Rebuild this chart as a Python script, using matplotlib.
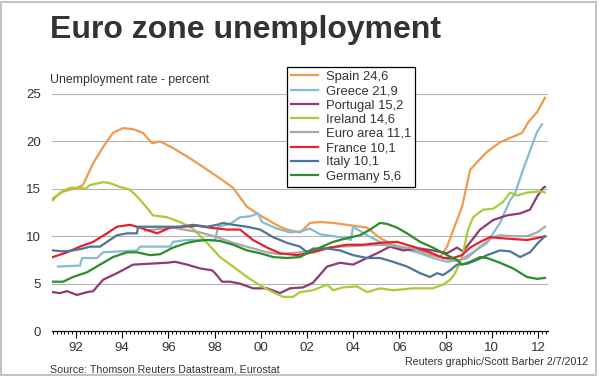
import numpy as np
import matplotlib
matplotlib.use('Agg')
import matplotlib.pyplot as plt
from matplotlib.patches import Rectangle

plt.rcParams['font.family'] = ['Liberation Sans', 'DejaVu Sans']

# decimal years / percent
spain_t = [1991.00, 1991.44, 1992.04, 1992.30, 1992.74, 1993.17, 1993.60, 1994.03, 1994.47, 1994.90,
           1995.29, 1995.64, 1996.20, 1996.94, 1997.50, 1998.23, 1998.80, 1999.40, 1999.97, 2000.53,
           2000.83, 2001.13, 2001.70, 2002.13, 2002.56, 2003.13, 2003.73, 2004.60, 2005.16, 2005.72,
           2006.59, 2007.32, 2007.76, 2008.06, 2008.32, 2008.71, 2009.06, 2009.36, 2009.79, 2010.35,
           2010.92, 2011.31, 2011.57, 2011.96, 2012.30]
spain_v = [14.0, 14.7, 15.1, 15.4, 17.7, 19.4, 20.9, 21.4, 21.3, 20.9,
           19.8, 20.0, 19.3, 18.2, 17.3, 16.1, 15.1, 13.1, 12.2, 11.4,
           11.0, 10.7, 10.4, 11.4, 11.5, 11.4, 11.2, 10.9, 9.8, 9.1,
           8.5, 8.0, 7.8, 8.9, 10.6, 13.1, 17.0, 17.8, 18.9, 19.9,
           20.5, 20.9, 22.0, 23.1, 24.6]

greece_t = [1991.22, 1992.17, 1992.26, 1992.91, 1993.17, 1994.64, 1994.77, 1996.07, 1996.20, 1996.81,
            1998.02, 1998.15, 1998.67, 1999.10, 1999.53, 1999.88, 2000.05, 2000.70, 2001.26, 2001.70,
            2002.13, 2002.56, 2003.43, 2003.90, 2003.99, 2004.60, 2005.16, 2006.03, 2006.89, 2007.45,
            2008.06, 2008.62, 2009.19, 2009.79, 2010.35, 2010.79, 2011.00, 2011.35, 2011.74, 2011.96,
            2012.17]
greece_v = [6.8, 6.9, 7.7, 7.7, 8.3, 8.5, 8.9, 8.9, 9.4, 9.6,
            9.6, 11.0, 11.3, 12.0, 12.1, 12.4, 11.5, 10.8, 10.4, 10.5,
            10.8, 10.2, 9.9, 9.6, 11.0, 10.1, 9.4, 8.8, 8.2, 7.7,
            7.3, 7.5, 8.3, 9.3, 11.4, 13.8, 14.5, 17.0, 19.6, 21.0,
            21.8]

portugal_t = [1991.00, 1991.31, 1991.61, 1992.04, 1992.48, 1992.74, 1993.17, 1993.77, 1994.47, 1995.20,
              1995.94, 1996.29, 1996.81, 1997.37, 1997.89, 1998.02, 1998.32, 1998.67, 1999.10, 1999.66,
              2000.27, 2000.83, 2001.26, 2001.83, 2002.26, 2002.87, 2003.43, 2003.99, 2004.42, 2005.03,
              2005.59, 2006.16, 2006.89, 2007.45, 2008.06, 2008.49, 2008.75, 2009.14, 2009.49, 2010.05,
              2010.66, 2011.22, 2011.65, 2011.96, 2012.22, 2012.30]
portugal_v = [4.1, 4.0, 4.2, 3.8, 4.1, 4.2, 5.4, 6.1, 7.0, 7.1,
              7.2, 7.3, 7.0, 6.6, 6.4, 6.1, 5.2, 5.2, 5.0, 4.5,
              4.5, 4.0, 4.5, 4.6, 5.1, 6.8, 7.2, 7.0, 7.5, 8.2,
              8.9, 8.5, 8.7, 8.5, 8.2, 8.8, 8.4, 9.6, 10.7, 11.7,
              12.2, 12.4, 12.8, 14.2, 15.1, 15.2]

ireland_t = [1991.00, 1991.31, 1991.74, 1992.17, 1992.39, 1992.61, 1993.17, 1993.47, 1993.90, 1994.34,
             1994.64, 1995.07, 1995.33, 1995.94, 1996.50, 1997.06, 1997.67, 1998.23, 1998.80, 1999.40,
             1999.97, 2000.53, 2000.96, 2001.39, 2001.70, 2002.26, 2002.87, 2003.13, 2003.56, 2004.16,
             2004.60, 2005.16, 2005.72, 2006.59, 2007.45, 2007.89, 2008.19, 2008.41, 2008.71, 2008.97,
             2009.19, 2009.62, 2010.05, 2010.48, 2010.79, 2011.09, 2011.52, 2011.96, 2012.22, 2012.30]
ireland_v = [13.8, 14.6, 15.1, 15.1, 15.0, 15.4, 15.7, 15.6, 15.2, 14.9,
             14.2, 13.0, 12.2, 12.0, 11.5, 10.8, 9.3, 7.8, 6.8, 5.7,
             4.8, 4.1, 3.6, 3.6, 4.1, 4.3, 4.9, 4.3, 4.6, 4.7,
             4.1, 4.5, 4.3, 4.5, 4.5, 4.9, 5.4, 6.1, 7.8, 10.7,
             12.0, 12.8, 12.9, 13.6, 14.6, 14.3, 14.6, 14.7, 14.7, 14.6]

euro_t = [1994.99, 1996.20, 1997.37, 1998.10, 1998.80, 1999.53, 2000.27, 2000.83, 2001.70, 2002.56,
          2003.43, 2004.29, 2005.16, 2006.03, 2006.59, 2007.32, 2008.06, 2008.49, 2008.93, 2009.49,
          2010.05, 2010.35, 2010.92, 2011.52, 2011.96, 2012.30]
euro_v = [10.6, 10.9, 10.4, 9.9, 9.3, 8.8, 8.3, 8.1, 8.3, 8.7,
          8.9, 9.0, 9.1, 8.9, 8.7, 8.2, 7.6, 7.4, 7.7, 8.9,
          9.9, 10.1, 10.0, 10.0, 10.4, 11.0]

france_t = [1991.00, 1991.61, 1992.17, 1992.74, 1993.34, 1993.77, 1994.34, 1994.77, 1995.51, 1996.07,
            1996.63, 1997.24, 1997.80, 1998.54, 1999.10, 1999.66, 2000.27, 2000.83, 2001.57, 2002.26,
            2003.00, 2003.73, 2004.42, 2005.16, 2005.90, 2006.59, 2007.32, 2007.89, 2008.32, 2008.71,
            2009.06, 2009.49, 2009.92, 2010.35, 2010.92, 2011.52, 2011.96, 2012.30]
france_v = [7.8, 8.3, 8.9, 9.4, 10.3, 11.0, 11.2, 10.9, 10.3, 10.9,
            11.0, 11.1, 10.9, 10.7, 10.7, 9.6, 8.8, 8.2, 8.0, 8.3,
            8.8, 9.1, 9.1, 9.3, 9.4, 8.9, 8.3, 7.7, 7.7, 8.0,
            8.8, 9.4, 9.9, 9.8, 9.7, 9.6, 9.8, 10.0]

italy_t = [1991.00, 1991.44, 1991.87, 1992.30, 1992.61, 1993.04, 1993.34, 1993.77, 1994.21, 1994.64,
           1994.68, 1995.20, 1995.94, 1996.50, 1997.06, 1997.67, 1998.10, 1998.36, 1998.80, 1999.40,
           1999.97, 2000.53, 2001.13, 2001.70, 2002.00, 2002.26, 2002.87, 2003.43, 2003.99, 2004.60,
           2005.16, 2005.72, 2006.33, 2006.89, 2007.32, 2007.63, 2007.89, 2008.19, 2008.49, 2008.93,
           2009.36, 2009.79, 2010.35, 2010.79, 2011.22, 2011.65, 2012.00, 2012.30]
italy_v = [8.5, 8.4, 8.5, 8.7, 8.9, 8.9, 9.4, 10.1, 10.3, 10.3,
           11.0, 11.0, 11.0, 11.0, 11.2, 11.0, 11.2, 11.4, 11.2, 11.0,
           10.7, 9.9, 9.3, 8.9, 8.3, 8.7, 8.7, 8.5, 8.0, 7.7,
           7.7, 7.3, 6.8, 6.1, 5.7, 6.1, 5.9, 6.4, 7.0, 7.1,
           7.5, 8.0, 8.5, 8.4, 7.8, 8.3, 9.3, 10.0]

germany_t = [1991.00, 1991.44, 1991.87, 1992.48, 1993.04, 1993.60, 1994.21, 1994.64, 1995.20, 1995.64,
             1996.20, 1996.81, 1997.24, 1997.67, 1998.23, 1998.80, 1999.40, 1999.97, 2000.53, 2001.13,
             2001.70, 2002.00, 2002.56, 2003.13, 2003.73, 2004.29, 2004.73, 2005.16, 2005.46, 2005.90,
             2006.33, 2006.89, 2007.45, 2008.06, 2008.49, 2008.71, 2009.06, 2009.49, 2009.79, 2010.35,
             2010.92, 2011.52, 2011.96, 2012.30]
germany_v = [5.2, 5.2, 5.7, 6.2, 7.0, 7.8, 8.3, 8.3, 8.0, 8.1,
             8.8, 9.3, 9.5, 9.6, 9.5, 9.1, 8.5, 8.2, 7.8, 7.7,
             7.8, 8.2, 8.8, 9.4, 9.8, 10.1, 10.7, 11.4, 11.3, 10.9,
             10.3, 9.4, 8.8, 8.0, 7.5, 7.0, 7.3, 7.8, 7.7, 7.2,
             6.6, 5.7, 5.5, 5.6]

labels = ['Spain 24,6', 'Greece 21,9', 'Portugal 15,2', 'Ireland 14,6',
          'Euro area 11,1', 'France 10,1', 'Italy 10,1', 'Germany 5,6']
year_ticks = [1992, 1994, 1996, 1998, 2000, 2002, 2004, 2006, 2008, 2010, 2012]
year_labels = ['92', '94', '96', '98', '00', '02', '04', '06', '08', '10', '12']
y_ticks = [0, 5, 10, 15, 20, 25]

series = [(spain_t, spain_v), (greece_t, greece_v), (portugal_t, portugal_v), (ireland_t, ireland_v),
          (euro_t, euro_v), (france_t, france_v), (italy_t, italy_v), (germany_t, germany_v)]
colors = ['#F09A4C', '#85BCD2', '#8E3B6F', '#A9CB35', '#A8A8A8', '#E4222B', '#4D7596', '#2B8C2B']

fig = plt.figure(figsize=(6, 3.76), dpi=100)
ax = fig.add_axes([52/600, 1 - 331/376, 496/600, 237/376])

for y in y_ticks[1:]:
    ax.axhline(y, color='#b4b4b4', lw=0.8, zorder=0)

lines = []
for (t, v), c, lab in zip(series, colors, labels):
    ln, = ax.plot(t, v, color=c, lw=1.6, label=lab, solid_joinstyle='round')
    lines.append(ln)

ax.set_xlim(1990.96, 2012.43)
ax.set_ylim(0, 25)
ax.set_xticks(year_ticks)
ax.set_xticklabels(year_labels)
ax.set_xticks(np.arange(1991, 2012.45, 1/6), minor=True)
ax.set_yticks(y_ticks)
for s in ['top', 'right', 'left']:
    ax.spines[s].set_visible(False)
ax.spines['bottom'].set_color('black')
ax.spines['bottom'].set_linewidth(0.9)
ax.tick_params(axis='x', which='major', length=5, width=0.8, color='black',
               labelsize=9.5, labelcolor='#333333', pad=3)
ax.tick_params(axis='x', which='minor', length=2.5, width=0.7, color='black')
ax.tick_params(axis='y', length=0, labelsize=9.5, labelcolor='#333333', pad=8)

leg = fig.legend(handles=lines, loc='upper left', bbox_to_anchor=(287/600, 1 - 67/376),
                 borderaxespad=0, fontsize=9.4, frameon=True, fancybox=False,
                 handlelength=2.1, handletextpad=0.6, labelspacing=0.16,
                 borderpad=0.3, edgecolor='black', framealpha=1)
leg.get_frame().set_linewidth(0.9)
for txt in leg.get_texts():
    txt.set_color('#333333')

fig.text(50/600, 1 - 38/376, 'Euro zone unemployment', fontsize=23, fontweight='bold',
         color='#333333', va='baseline')
fig.text(50/600, 1 - 83/376, 'Unemployment rate - percent', fontsize=8.8,
         color='#333333', va='baseline')
fig.text(50/600, 1 - 373/376, 'Source: Thomson Reuters Datastream, Eurostat', fontsize=7.7,
         color='#333333', va='baseline')
fig.text(588/600, 1 - 365/376, 'Reuters graphic/Scott Barber 2/7/2012', fontsize=7.7,
         color='#333333', va='baseline', ha='right')

fig.patches.append(Rectangle((1/600, 1/376), 595/600, 373/376, transform=fig.transFigure,
                             fill=False, edgecolor='#c4c4c4', lw=1.5))

fig.savefig('out.png', dpi=100)
